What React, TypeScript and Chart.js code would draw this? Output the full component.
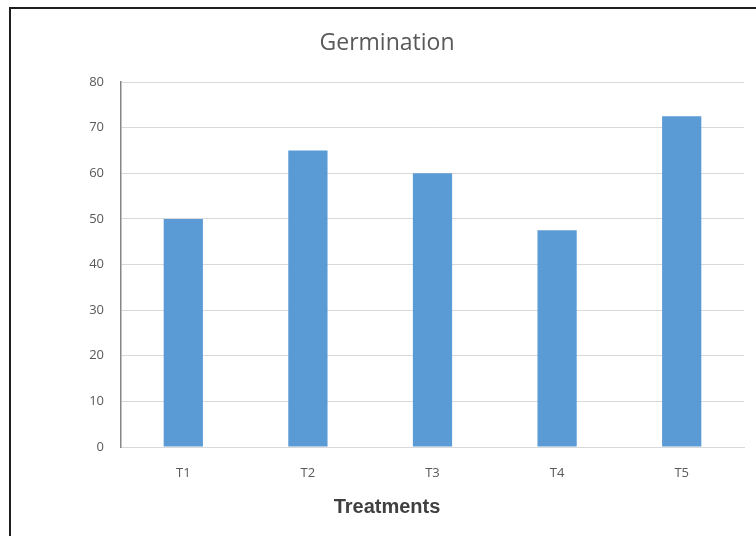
import React, { useEffect, useRef } from "react";
import { Chart, registerables } from "chart.js";

Chart.register(...registerables);

const categories: string[] = ["T1", "T2", "T3", "T4", "T5"];
const germination: number[] = [50, 65, 60, 47.5, 72.5];
const yMin = 0;
const yMax = 80;
const yStep = 10;
const chartTitle = "Germination";
const xTitle = "Treatments";

const TITLE_CENTER_X = 387;

const framePlugin = {
  id: "frame",
  beforeDraw(chart: any) {
    const ctx = chart.ctx;
    ctx.save();
    ctx.fillStyle = "#ffffff";
    ctx.fillRect(0, 0, chart.width, chart.height);
    ctx.strokeStyle = "#1e1e1e";
    ctx.lineWidth = 2;
    ctx.strokeRect(10, 8, chart.width - 20, chart.height + 20);
    ctx.restore();
  },
  afterDraw(chart: any) {
    const ctx = chart.ctx;
    ctx.save();
    ctx.textAlign = "center";
    ctx.textBaseline = "middle";
    ctx.fillStyle = "#595959";
    ctx.font = "normal 23px 'Open Sans', 'Noto Sans', sans-serif";
    ctx.fillText(chartTitle, TITLE_CENTER_X, 43);
    ctx.fillStyle = "#404040";
    ctx.font = "bold 20px 'Liberation Sans', Arial, sans-serif";
    ctx.fillText(xTitle, TITLE_CENTER_X, 507);
    ctx.restore();
  },
};

export default function App() {
  const ref = useRef<HTMLCanvasElement | null>(null);

  useEffect(() => {
    document.body.style.margin = "0";
    const canvas = ref.current;
    if (!canvas) return;
    const chart = new Chart(canvas, {
      type: "bar",
      data: {
        labels: categories,
        datasets: [
          {
            label: "Germination",
            data: germination,
            backgroundColor: "#5b9bd5",
            borderWidth: 0,
            categoryPercentage: 1,
            barPercentage: 0.315,
          },
        ],
      },
      options: {
        responsive: false,
        animation: false,
        devicePixelRatio: 1,
        layout: { padding: { left: 0, right: 30, top: 0, bottom: 0 } },
        plugins: {
          legend: { display: false },
          tooltip: { enabled: false },
          title: {
            display: true,
            text: chartTitle,
            color: "rgba(0,0,0,0)",
            font: { family: "'Open Sans', 'Noto Sans', sans-serif", size: 20, weight: "normal", lineHeight: 1.2 },
            padding: { top: 31, bottom: 27 },
          },
        },
        scales: {
          x: {
            grid: { display: false, drawTicks: false },
            border: { display: true, color: "#d9d9d9", width: 1 },
            ticks: {
              color: "#595959",
              padding: 18,
              font: { family: "'Open Sans', 'Noto Sans', sans-serif", size: 13 },
            },
            title: { display: false },
            afterFit(scale: any) {
              scale.height = 89;
            },
          },
          y: {
            min: yMin,
            max: yMax,
            ticks: {
              stepSize: yStep,
              color: "#595959",
              padding: 17,
              font: { family: "'Open Sans', 'Noto Sans', sans-serif", size: 13 },
            },
            grid: { color: "#d9d9d9", lineWidth: 1, drawTicks: false },
            border: { display: true, color: "#868686", width: 1.5 },
            afterFit(scale: any) {
              scale.width = 121;
            },
          },
        },
      },
      plugins: [framePlugin],
    });
    return () => chart.destroy();
  }, []);

  return (
    <div style={{ position: "absolute", left: 0, top: 0, width: 756, height: 536, overflow: "hidden", background: "#fff" }}>
      <canvas ref={ref} width={774} height={536} style={{ width: 774, height: 536, display: "block" }} />
    </div>
  );
}
